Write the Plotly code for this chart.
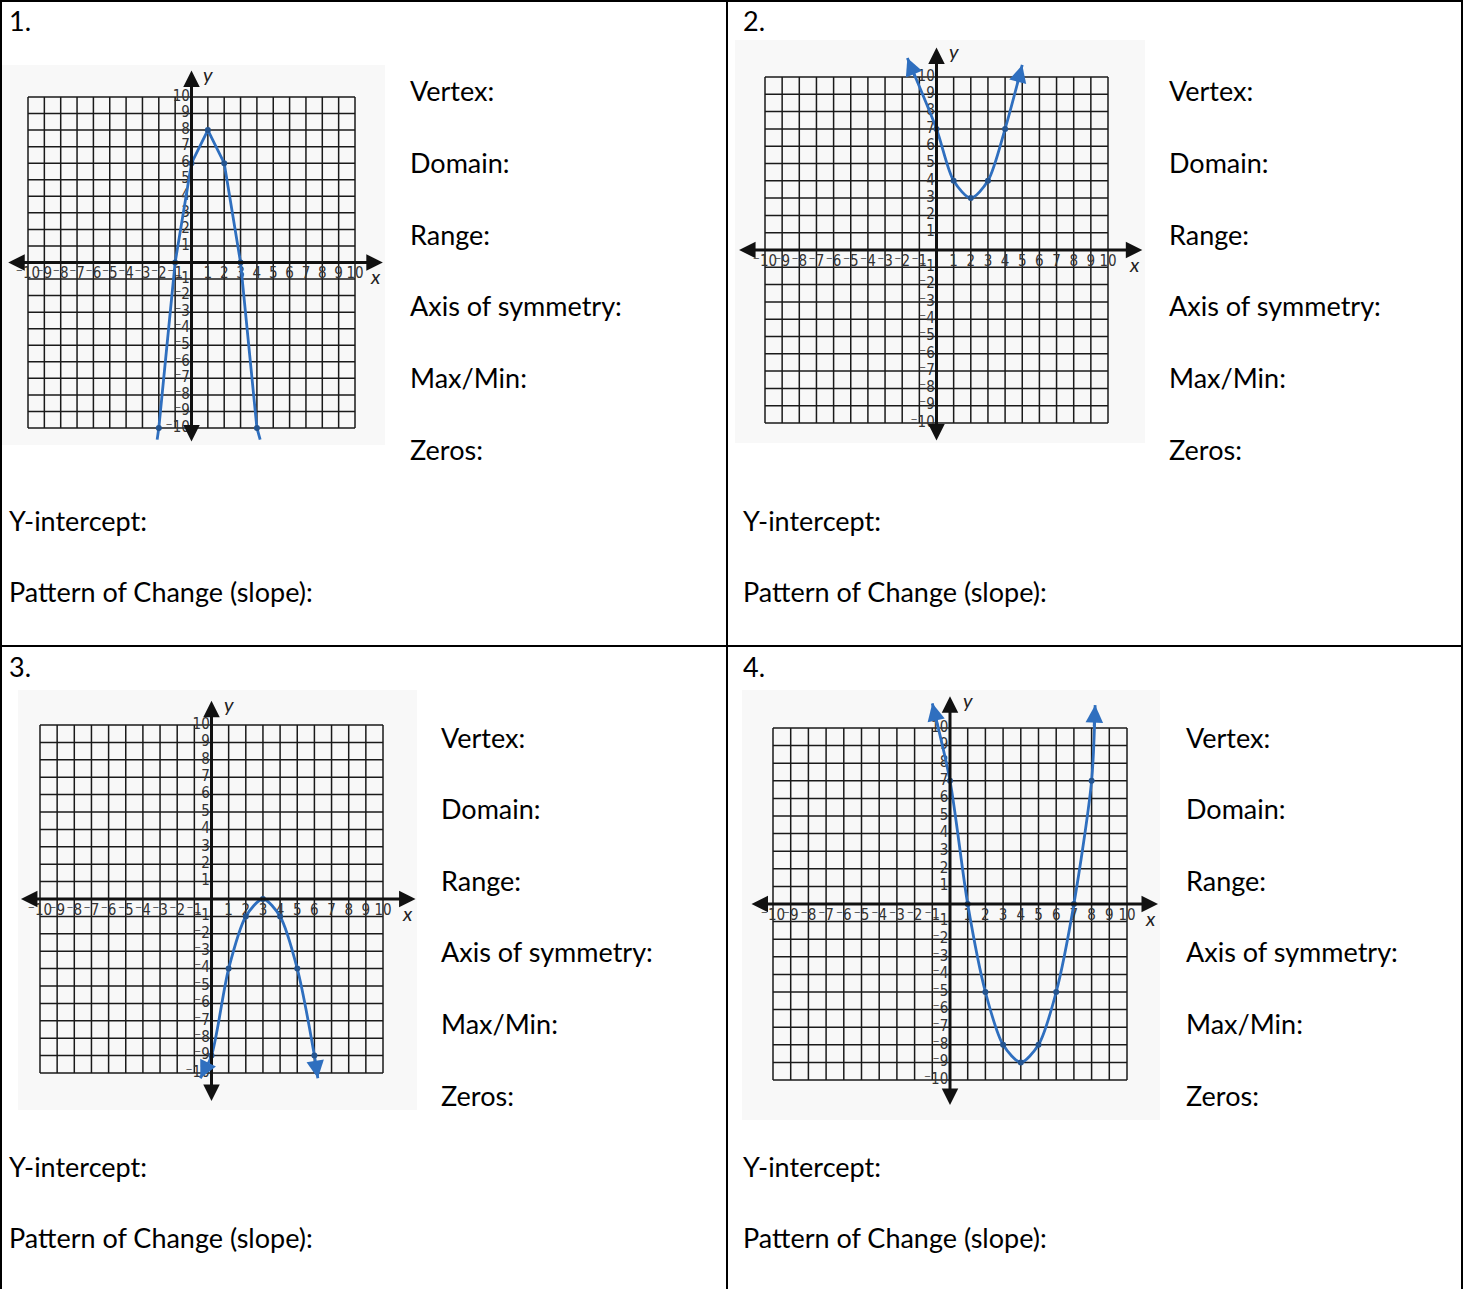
import plotly.graph_objects as go

W, H = 1466, 1289

# ---------------- data ----------------
g1_x = [-2, -1, 0, 1, 2, 3, 4]
g1_y = [-10, 0, 6, 8, 6, 0, -10]
g1_tip_x = [-2.1, 4.2]
g1_tip_y = [-10.7, -10.7]

g2_x = [0, 1, 2, 3, 4]
g2_y = [7, 4, 3, 4, 7]
g2_tip_x = [-1.7, 5.0]
g2_tip_y = [11.1, 10.7]

g3_x = [0, 1, 2, 3, 4, 5, 6]
g3_y = [-9, -4, -1, 0, -1, -4, -9]
g3_tip_x = [-0.65, 6.2]
g3_tip_y = [-10.3, -10.3]

g4_x = [0, 1, 2, 3, 4, 5, 6, 7, 8]
g4_y = [7, 0, -5, -8, -9, -8, -5, 0, 7]
g4_tip_x = [-1.0, 8.2]
g4_tip_y = [11.4, 11.3]

grid_ticks = list(range(-10, 11))
tick_labels = [(("\u207b" + str(abs(v))) if v < 0 else str(v)) for v in grid_ticks]

questions = ["Vertex:", "Domain:", "Range:", "Axis of symmetry:", "Max/Min:", "Zeros:"]
bottom_questions = ["Y-intercept:", "Pattern of Change (slope):"]
cell_numbers = ["1.", "2.", "3.", "4."]

# ---------------- layout geometry (pixels) ----------------
graphs = [
    dict(x=g1_x, y=g1_y, tx=g1_tip_x, ty=g1_tip_y, shape="linear",
         cx=191.5, cy=262.5, ux=16.35, uy=16.55,
         xa=(-11.3, 11.7), ya=(-10.9, 11.6), bg=(0, 65, 385, 445)),
    dict(x=g2_x, y=g2_y, tx=g2_tip_x, ty=g2_tip_y, shape="spline",
         cx=936.5, cy=250, ux=17.15, uy=17.3,
         xa=(-11.6, 12.0), ya=(-11.1, 11.7), bg=(735, 40, 1145, 443)),
    dict(x=g3_x, y=g3_y, tx=g3_tip_x, ty=g3_tip_y, shape="spline",
         cx=211.5, cy=899, ux=17.15, uy=17.4,
         xa=(-11.2, 11.9), ya=(-11.7, 11.4), bg=(18, 690, 417, 1110)),
    dict(x=g4_x, y=g4_y, tx=g4_tip_x, ty=g4_tip_y, shape="spline",
         cx=950, cy=904, ux=17.7, uy=17.6,
         xa=(-11.3, 11.75), ya=(-11.5, 11.8), bg=(742, 690, 1160, 1120)),
]

BLUE = "#2f6fbf"
DOT = "#24548f"
FONT = "Lato, 'Open Sans', sans-serif"
TICKFONT = "'DejaVu Sans Condensed', 'Open Sans', sans-serif"

fig = go.Figure()
shapes = []
annotations = []
layout_axes = {}

for i, g in enumerate(graphs):
    n = i + 1
    xs = "x" if n == 1 else f"x{n}"
    ys = "y" if n == 1 else f"y{n}"
    cx, cy, ux, uy = g["cx"], g["cy"], g["ux"], g["uy"]
    xlo = max(-12.4, -(cx - 1) / ux)
    xhi = min(12.4, (W - 1 - cx) / ux)
    ylo = -12.2
    yhi = 12.2
    xd = [(cx + xlo * ux) / W, (cx + xhi * ux) / W]
    yd = [1 - (cy - ylo * uy) / H, 1 - (cy - yhi * uy) / H]
    ax_name = "xaxis" if n == 1 else f"xaxis{n}"
    ay_name = "yaxis" if n == 1 else f"yaxis{n}"
    layout_axes[ax_name] = dict(domain=xd, range=[xlo, xhi], visible=False,
                                anchor=ys, fixedrange=True)
    layout_axes[ay_name] = dict(domain=yd, range=[ylo, yhi], visible=False,
                                anchor=xs, fixedrange=True)

    bx0, by0, bx1, by1 = g["bg"]
    shapes.append(dict(type="rect", xref="paper", yref="paper",
                       x0=bx0 / W, x1=bx1 / W, y0=1 - by1 / H, y1=1 - by0 / H,
                       fillcolor="#f8f8f8", line=dict(width=0), layer="below"))

    for t in grid_ticks:
        shapes.append(dict(type="line", xref=xs, yref=ys, x0=t, x1=t,
                           y0=grid_ticks[0], y1=grid_ticks[-1],
                           line=dict(color="#1a1a1a", width=1.5), layer="below"))
        shapes.append(dict(type="line", xref=xs, yref=ys, y0=t, y1=t,
                           x0=grid_ticks[0], x1=grid_ticks[-1],
                           line=dict(color="#1a1a1a", width=1.5), layer="below"))

    annotations.append(dict(xref=xs, yref=ys, axref=xs, ayref=ys,
                            x=g["xa"][1], y=0, ax=g["xa"][0], ay=0, text="",
                            showarrow=True, arrowhead=2, arrowside="end+start",
                            arrowsize=1.1, arrowwidth=3, arrowcolor="#111"))
    annotations.append(dict(xref=xs, yref=ys, axref=xs, ayref=ys,
                            x=0, y=g["ya"][1], ax=0, ay=g["ya"][0], text="",
                            showarrow=True, arrowhead=2, arrowside="end+start",
                            arrowsize=1.1, arrowwidth=3, arrowcolor="#111"))
    annotations.append(dict(xref=xs, yref=ys, x=g["xa"][1] - 0.45, y=-0.8,
                            text="<i>x</i>", showarrow=False,
                            font=dict(family=FONT, size=20, color="#222")))
    annotations.append(dict(xref=xs, yref=ys, x=1.0, y=g["ya"][1] - 0.2,
                            text="<i>y</i>", showarrow=False,
                            font=dict(family=FONT, size=20, color="#222")))

    xl = [t for t in grid_ticks if t != 0]
    xlab = [tick_labels[grid_ticks.index(t)] for t in xl]
    fig.add_trace(go.Scatter(x=xl, y=[-0.72] * len(xl), mode="text", text=xlab,
                             textfont=dict(family=TICKFONT, size=15, color="#333"),
                             xaxis=xs, yaxis=ys, hoverinfo="skip", showlegend=False,
                             cliponaxis=False))
    fig.add_trace(go.Scatter(x=[-0.1] * len(xl), y=xl, mode="text", text=xlab,
                             textposition="middle left",
                             textfont=dict(family=TICKFONT, size=15, color="#333"),
                             xaxis=xs, yaxis=ys, hoverinfo="skip", showlegend=False,
                             cliponaxis=False))

    cxs = [g["tx"][0]] + g["x"] + [g["tx"][1]]
    cys = [g["ty"][0]] + g["y"] + [g["ty"][1]]
    fig.add_trace(go.Scatter(x=cxs, y=cys, mode="lines",
                             line=dict(color=BLUE, width=2.8, shape=g["shape"],
                                       smoothing=0.8),
                             xaxis=xs, yaxis=ys, hoverinfo="skip", showlegend=False))
    fig.add_trace(go.Scatter(x=g["x"], y=g["y"], mode="markers",
                             marker=dict(color=DOT, size=6),
                             xaxis=xs, yaxis=ys, hoverinfo="skip", showlegend=False,
                             cliponaxis=False))
    for k, idx in ((0, 0), (1, -1)):
        px, py = g["x"][idx], g["y"][idx]
        tx, ty = g["tx"][k], g["ty"][k]
        sx = tx - 0.3 * (tx - px)
        sy = ty - 0.3 * (ty - py)
        annotations.append(dict(xref=xs, yref=ys, axref=xs, ayref=ys,
                                x=tx, y=ty, ax=sx, ay=sy, text="",
                                showarrow=True, arrowhead=2, arrowsize=1.25,
                                arrowwidth=2.8, arrowcolor=BLUE))

# ---------------- table borders ----------------
VX, HY, RX = 727, 646, 1462
for (x0, y0, x1, y1) in [(0, 1, RX, 1), (1, 0, 1, H), (VX, 0, VX, H),
                         (0, HY, RX, HY), (RX, 0, RX, H)]:
    shapes.append(dict(type="line", xref="paper", yref="paper",
                       x0=x0 / W, x1=x1 / W, y0=1 - y0 / H, y1=1 - y1 / H,
                       line=dict(color="black", width=2)))

# ---------------- text ----------------
TXT = dict(family=FONT, size=27, color="black")
cell_origin = [(7, 0), (741, 0), (7, 646), (741, 646)]
right_col = [408, 1167, 439, 1184]
for i, (ox, oy) in enumerate(cell_origin):
    annotations.append(dict(xref="paper", yref="paper", x=ox / W, y=1 - (oy + 20) / H,
                            text=cell_numbers[i], showarrow=False, xanchor="left",
                            yanchor="middle", font=TXT))
    for j, q in enumerate(questions):
        yy = oy + 91 + 71.6 * j
        annotations.append(dict(xref="paper", yref="paper", x=right_col[i] / W,
                                y=1 - yy / H, text=q, showarrow=False,
                                xanchor="left", yanchor="middle", font=TXT))
    for j, q in enumerate(bottom_questions):
        yy = oy + 520 + 71.8 * j
        annotations.append(dict(xref="paper", yref="paper", x=ox / W,
                                y=1 - yy / H, text=q, showarrow=False,
                                xanchor="left", yanchor="middle", font=TXT))

fig.update_layout(width=W, height=H, margin=dict(l=0, r=0, t=0, b=0),
                  paper_bgcolor="white", plot_bgcolor="rgba(0,0,0,0)",
                  shapes=shapes, annotations=annotations, showlegend=False,
                  **layout_axes)

fig.write_html("out.html", config={"displayModeBar": False},
               post_script="document.body.style.margin='0';document.body.style.overflow='hidden';")
